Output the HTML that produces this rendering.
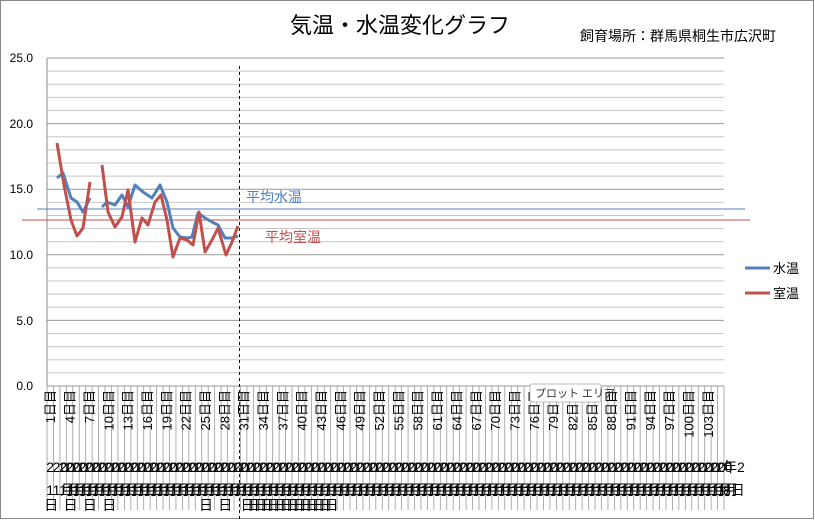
<!DOCTYPE html>
<html><head><meta charset="utf-8"><style>
body{margin:0;background:#fff}
svg{display:block;font-family:"Liberation Sans","Noto Sans CJK JP",sans-serif}
</style></head><body>
<svg id="s" width="815" height="520" viewBox="0 0 815 520" xmlns="http://www.w3.org/2000/svg">
<rect x="0.5" y="0.5" width="813" height="518" fill="#fff" stroke="#888"/>
<text x="400" y="33" font-size="22" text-anchor="middle" fill="#000">気温・水温変化グラフ</text>
<text x="580" y="41" font-size="14" fill="#000">飼育場所：群馬県桐生市広沢町</text>
<g id="grid"></g>
<line x1="47" y1="58" x2="47" y2="386" stroke="#888"/>
<line x1="239.5" y1="66" x2="239.5" y2="520" stroke="#000" stroke-dasharray="3,3"/>
<g font-size="12" text-anchor="end" fill="#000">
<text x="33" y="390">0.0</text><text x="33" y="325">5.0</text><text x="33" y="259">10.0</text>
<text x="33" y="193">15.0</text><text x="33" y="128">20.0</text><text x="33" y="62">25.0</text>
</g>
<line x1="37" y1="209" x2="745" y2="209" stroke="#4f81bd" stroke-width="1"/>
<line x1="22" y1="220" x2="750" y2="220" stroke="#c0504d" stroke-width="1"/>
<text x="246" y="202" font-size="14" fill="#4f81bd">平均水温</text>
<text x="265" y="242" font-size="14" fill="#c0504d">平均室温</text>
<g fill="none" stroke-width="3" stroke-linejoin="round">
<polyline stroke="#4f81bd" points="57,178 63,173 71,198 77,202 83,212 90,198"/>
<polyline stroke="#4f81bd" points="102,207 107,202 115,205 122,195 128,207 135,185 143,192 152,198 160,185 167,202 173,228 180,237 187,238 192,237 198,213 205,218 212,222 218,225 225,238 232,238 238,236"/>
<polyline stroke="#c0504d" points="57,143 64,185 71,220 77,236 83,228 90,182"/>
<polyline stroke="#c0504d" points="102,165 108,212 115,227 122,217 128,190 135,242 142,218 148,225 155,202 161,195 167,220 173,257 180,238 187,240 193,245 199,212 205,252 212,240 218,228 226,255 232,242 238,226"/>
</g>
<line x1="745" y1="268" x2="770" y2="268" stroke="#4f81bd" stroke-width="3"/>
<text x="773" y="273" font-size="13">水温</text>
<line x1="745" y1="293" x2="770" y2="293" stroke="#c0504d" stroke-width="3"/>
<text x="773" y="298" font-size="13">室温</text>
<g id="xl" font-size="13" fill="#000"></g>
<rect x="530" y="384" width="71" height="18" rx="2" fill="#fff" stroke="#bbb"/>
<text x="535" y="397" font-size="11" fill="#333">プロット エリア</text>
</svg>
<script>
var ns="http://www.w3.org/2000/svg",g=document.getElementById('grid'),xl=document.getElementById('xl');
function el(p,t,a,txt){var e=document.createElementNS(ns,t);for(var k in a)e.setAttribute(k,a[k]);if(txt)e.textContent=txt;p.appendChild(e);return e;}
for(var i=0;i<=25;i++){var y=386-i*13.12;el(g,'line',{x1:47,x2:724,y1:y,y2:y,stroke:i%5==0?'#999':'#c8c8c8'});}
var w=677/105;
for(var i=0;i<=105;i++){var x=47+i*w;el(g,'line',{x1:x,x2:x,y1:386,y2:510,stroke:'#999','stroke-width':0.8});}
for(var i=0;i<105;i++){var cx=47+(i+0.5)*w;
 if(i%3==0)el(xl,'text',{transform:'translate('+(cx+5)+',390) rotate(-90)','text-anchor':'end'},(i+1)+'日目');
 el(xl,'text',{x:cx-4,y:472,'font-size':'14'},i==0?'2':'20');
 el(xl,'text',{x:cx-4,y:495,'font-size':'14'},i==0?'1':'1月');
 if(i<30&&(i<11||i>22)&&i%3==0)el(xl,'text',{x:cx-6,y:510,'font-size':'14'},'日');
 if(i>=30&&i<44)el(xl,'text',{x:cx-3,y:510,'font-size':'14'},'日');
}
el(xl,'text',{x:723,y:472,'font-size':'14'},'年2');
el(xl,'text',{x:723,y:495,'font-size':'14'},'8日');
</script>
</body></html>
